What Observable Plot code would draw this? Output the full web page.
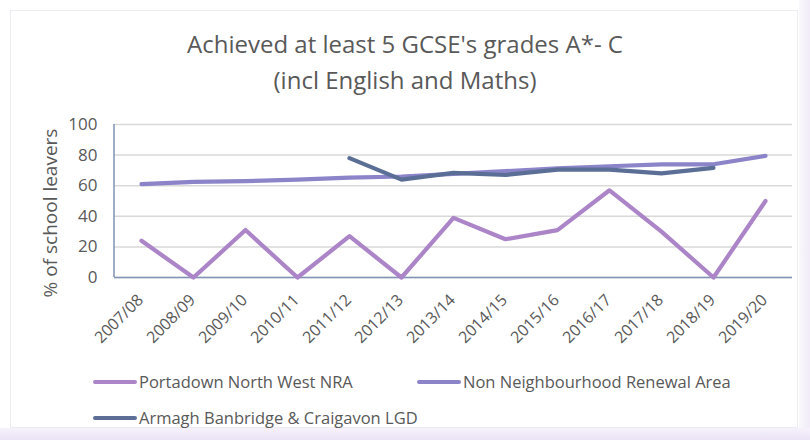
<!DOCTYPE html>
<html>
<head>
<meta charset="utf-8">
<script src="https://cdn.jsdelivr.net/npm/d3@7"></script>
<script src="https://cdn.jsdelivr.net/npm/@observablehq/plot@0.6"></script>
<style>
  html, body { margin: 0; padding: 0; background: #fff; }
  #wrap { position: relative; width: 810px; height: 440px; overflow: hidden; font-family: "Open Sans", sans-serif; color: #595959; }
  #frame { position: absolute; left: 10px; top: 10px; width: 788px; height: 418px; border: 1px solid #ececf2; box-sizing: border-box; }
  #shade { position: absolute; left: 0; top: 428px; width: 810px; height: 12px; background: linear-gradient(#f6f2fb, #ebe3f6); }
  #shadeR { position: absolute; left: 799px; top: 0; width: 11px; height: 440px; background: linear-gradient(90deg, #f9f7fc, #f1ecf8); }
  #title { position: absolute; left: 0; width: 810px; top: 26px; text-align: center; font-size: 24px; line-height: 36px; color: #595959; }
  #chart { position: absolute; left: 0; top: 100px; }
  .leg { position: absolute; font-size: 16.5px; color: #595959; display: flex; align-items: center; white-space: nowrap; }
  .leg span.sw { display: inline-block; width: 44px; height: 4px; border-radius: 2px; margin-right: 2px; }
</style>
</head>
<body>
<div id="wrap">
  <div id="shadeR"></div>
  <div id="shade"></div>
  <div id="frame"></div>
  <div id="title">Achieved at least 5 GCSE's grades A*- C<br>(incl English and Maths)</div>
  <div id="chart"></div>
  <div id="legend"></div>
</div>
<script>
const years = ["2007/08","2008/09","2009/10","2010/11","2011/12","2012/13","2013/14","2014/15","2015/16","2016/17","2017/18","2018/19","2019/20"];
const seriesNames = ["Portadown North West NRA", "Non Neighbourhood Renewal Area", "Armagh Banbridge & Craigavon LGD"];
const portadown = [24, 0, 31, 0, 27, 0, 39, 25, 31, 57, 30, 0, 50];
const nonNRA = [61, 62.5, 63, 64, 65.3, 66, 67.7, 69.5, 71.4, 72.7, 74, 74, 79.5];
const lgd = [null, null, null, null, 78, 64, 68.4, 67, 70.5, 70.5, 68, 71.6, null];
const colors = ["#ab85c8", "#8b84c9", "#5b6f96"];
const yTicks = [0, 20, 40, 60, 80, 100];
const yLabel = "% of school leavers";

const allSeries = [portadown, nonNRA, lgd];
const rows = [];
allSeries.forEach((vals, si) => {
  vals.forEach((v, i) => {
    if (v !== null) rows.push({series: seriesNames[si], year: years[i], value: v});
  });
});

const chart = Plot.plot({
  width: 810,
  height: 250,
  marginLeft: 114,
  marginRight: 18,
  marginTop: 24,
  marginBottom: 73,
  style: {fontFamily: "Open Sans, sans-serif", fontSize: "15px", color: "#595959", background: "transparent", overflow: "visible"},
  x: {type: "point", domain: years, padding: 0.5, label: null},
  y: {domain: [0, 100], ticks: yTicks, label: null},
  color: {domain: seriesNames, range: colors},
  marks: [
    Plot.gridY(yTicks, {stroke: "#d9d9d9", strokeOpacity: 1, strokeWidth: 1.5}),
    Plot.ruleY([0], {stroke: "#7f93b3", strokeWidth: 1.5}),
    Plot.axisY({ticks: yTicks, tickSize: 0, tickPadding: 17, fontSize: 17, fill: "#595959", label: null}),
    Plot.text([yLabel], {frameAnchor: "left", textAnchor: "middle", rotate: -90, dx: -64, dy: 12, fontSize: 19, fill: "#595959"}),
    Plot.axisX({tickSize: 0, tickRotate: -45, tickPadding: 6, fontSize: 16, fill: "#595959", dx: -1, dy: 14, label: null}),
    Plot.line(rows, {x: "year", y: "value", z: "series", stroke: "series", strokeWidth: 4.2, strokeLinecap: "round", strokeLinejoin: "round"})
  ]
});
document.getElementById("chart").appendChild(chart);

// y axis line at left edge of plot area
const svg = d3.select(chart);
svg.append("line").attr("x1", 114).attr("x2", 114).attr("y1", 24).attr("y2", 177).attr("stroke", "#7f93b3").attr("stroke-width", 1.5);

const legendPos = [[93, 370], [417, 370], [93, 406]];
const legend = document.getElementById("legend");
seriesNames.forEach((name, i) => {
  const d = document.createElement("div");
  d.className = "leg";
  d.style.left = legendPos[i][0] + "px";
  d.style.top = legendPos[i][1] + "px";
  d.innerHTML = `<span class="sw" style="background:${colors[i]}"></span>${name}`;
  legend.appendChild(d);
});
</script>
</body>
</html>
